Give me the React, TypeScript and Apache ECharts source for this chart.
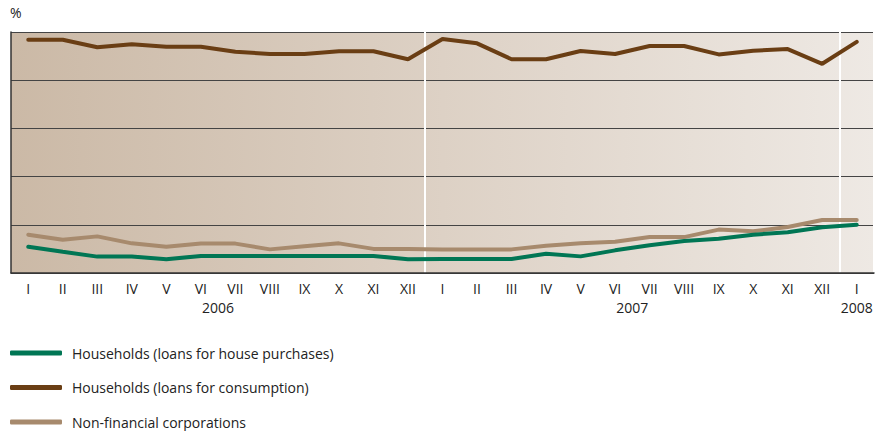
import React, { useEffect, useRef } from "react";
import * as echarts from "echarts";

const months = ["I","II","III","IV","V","VI","VII","VIII","IX","X","XI","XII","I","II","III","IV","V","VI","VII","VIII","IX","X","XI","XII","I"];
const yearLabels: Record<string, string> = { "5.5": "2006", "17.5": "2007", "24": "2008" };
const housePurchases = [5.09,4.88,4.68,4.68,4.57,4.71,4.71,4.71,4.71,4.71,4.71,4.57,4.58,4.58,4.58,4.80,4.69,4.94,5.15,5.33,5.42,5.59,5.69,5.90,6.00];
const consumption = [13.68,13.68,13.37,13.49,13.39,13.39,13.18,13.09,13.09,13.20,13.20,12.87,13.71,13.53,12.87,12.87,13.21,13.09,13.42,13.42,13.07,13.22,13.29,12.68,13.59];
const corporations = [5.59,5.38,5.52,5.23,5.09,5.22,5.22,4.98,5.11,5.23,5.00,5.00,4.98,4.98,4.98,5.13,5.23,5.30,5.49,5.49,5.80,5.73,5.91,6.20,6.20];

const FONT = "Open Sans";

export default function App() {
  const ref = useRef<HTMLDivElement>(null);
  useEffect(() => {
    if (!ref.current) return;
    const chart = echarts.init(ref.current, undefined, { renderer: "svg" });
    chart.setOption({
      animation: false,
      textStyle: { fontFamily: FONT },
      graphic: [
        { type: "text", left: 10, top: 5, style: { text: "%", fontFamily: FONT, fontSize: 14, fill: "#222" } },
      ],
      legend: {
        orient: "vertical",
        left: 10,
        top: 344,
        height: 100,
        padding: 0,
        icon: "roundRect",
        itemWidth: 52,
        itemHeight: 5,
        itemGap: 16.5,
        textStyle: { fontFamily: FONT, fontSize: 14, color: "#222", lineHeight: 18, padding: [0, 0, 0, 5] },
        data: ["Households (loans for house purchases)", "Households (loans for consumption)", "Non-financial corporations"],
      },
      grid: {
        left: 11,
        right: 0,
        top: 32,
        bottom: 158,
        show: true,
        borderWidth: 0,
        backgroundColor: new echarts.graphic.LinearGradient(0, 0, 1, 0, [
          { offset: 0, color: "#cbb9a6" },
          { offset: 0.5, color: "#ddd1c5" },
          { offset: 1, color: "#eee9e4" },
        ]),
      },
      xAxis: [
        {
          type: "category",
          data: months,
          boundaryGap: true,
          axisLine: { lineStyle: { color: "#333", width: 1.5 } },
          axisTick: { inside: true, length: 5, lineStyle: { color: "#333" } },
          axisLabel: { fontFamily: FONT, fontSize: 14, color: "#222", margin: 8 },
          splitLine: {
            show: true,
            interval: (index: number) => index === 12 || index === 24,
            lineStyle: { color: "#ffffff", width: 2 },
          },
        },
        {
          type: "value",
          position: "bottom",
          min: -0.5,
          max: 24.5,
          interval: 0.5,
          offset: 19,
          axisLine: { show: false },
          axisTick: { show: false },
          splitLine: { show: false },
          axisLabel: {
            fontFamily: FONT,
            fontSize: 14,
            color: "#222",
            margin: 8,
            showMinLabel: true,
            showMaxLabel: true,
            formatter: (v: number) => yearLabels[String(v)] || "",
          },
        },
      ],
      yAxis: {
        type: "value",
        min: 4,
        max: 14,
        interval: 2,
        axisLine: { show: true, onZero: false, lineStyle: { color: "#333", width: 1.5 } },
        axisTick: { show: false },
        axisLabel: { show: false },
        splitLine: { lineStyle: { color: "#444", width: 1 } },
      },
      series: [
        {
          name: "Households (loans for house purchases)",
          type: "line",
          data: housePurchases,
          symbol: "none",
          lineStyle: { color: "#007654", width: 4, cap: "round" },
          itemStyle: { color: "#007654" },
          z: 4,
        },
        {
          name: "Households (loans for consumption)",
          type: "line",
          data: consumption,
          symbol: "none",
          lineStyle: { color: "#6a3e14", width: 4, cap: "round" },
          itemStyle: { color: "#6a3e14" },
          z: 3,
        },
        {
          name: "Non-financial corporations",
          type: "line",
          data: corporations,
          symbol: "none",
          lineStyle: { color: "#a78a6d", width: 4, cap: "round" },
          itemStyle: { color: "#a78a6d" },
          z: 2,
        },
      ],
    });
    return () => chart.dispose();
  }, []);
  return <div ref={ref} style={{ position: "absolute", left: 0, top: 0, width: 877, height: 431 }} />;
}
